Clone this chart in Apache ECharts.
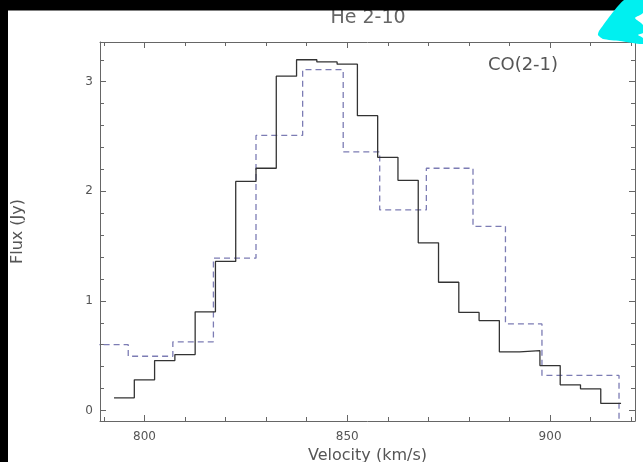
<!DOCTYPE html>
<html>
<head>
<meta charset="utf-8">
<script src="https://cdn.jsdelivr.net/npm/echarts@6/dist/echarts.min.js"></script>
<style>
html,body{margin:0;padding:0;background:#fff;}
#main{width:643px;height:462px;}
</style>
</head>
<body>
<div id="main"></div>
<script>
// velocity bin centres (km/s) and flux (Jy) of the solid histogram
var solidVel = [795,800,805,810,815,820,825,830,835,840,845,850,855,860,865,870,875,880,885,890,895,900,905,910,915];
var solidFlux = [0.115,0.28,0.455,0.51,0.90,1.36,2.09,2.21,3.05,3.20,3.18,3.16,2.69,2.31,2.10,1.53,1.17,0.895,0.82,0.535,0.546,0.41,0.234,0.198,0.064];
var solidWidth = 5;

// dashed histogram: bin edges and flux of each bin
var dashEdges = [785,796,807,817,827.5,839,849,858,869.5,881,889,898,917];
var dashFlux = [0.60,0.495,0.626,1.39,2.51,3.11,2.36,1.83,2.21,1.68,0.79,0.32];

var xMin = 789.04, xMax = 920.94;
var yMin = -0.096, yMax = 3.362;

var fontName = 'DejaVu Sans';
var axisColor = '#666';

function solidSteps(){
    var pts = [];
    for (var i = 0; i < solidVel.length; i++) {
        pts.push([solidVel[i] - solidWidth / 2, solidFlux[i]]);
    }
    var last = solidVel.length - 1;
    pts.push([solidVel[last] + solidWidth / 2, solidFlux[last]]);
    return pts;
}

function dashSteps(){
    var pts = [];
    for (var i = 0; i < dashFlux.length; i++) {
        pts.push([dashEdges[i], dashFlux[i]]);
    }
    // outline drops to the axis after the last bin
    pts.push([dashEdges[dashEdges.length - 1], yMin]);
    return pts;
}

function frameX(pos, showLabel){
    return {
        type: 'value',
        position: pos,
        min: xMin,
        max: xMax,
        splitNumber: 3,
        axisLine: {show: true, onZero: false, lineStyle: {color: axisColor, width: 1}},
        axisTick: {show: true, inside: true, length: 6, lineStyle: {color: axisColor}},
        minorTick: {show: true, splitNumber: 5, length: 4, lineStyle: {color: axisColor}},
        splitLine: {show: false},
        axisLabel: {
            show: showLabel, margin: 10, color: '#555',
            fontFamily: fontName, fontSize: 12,
            showMinLabel: false, showMaxLabel: false
        },
        name: showLabel ? 'Velocity (km/s)' : '',
        nameLocation: 'middle',
        nameGap: 27,
        nameTextStyle: {color: '#555', fontFamily: fontName, fontSize: 16}
    };
}

function frameY(pos, showLabel){
    return {
        type: 'value',
        position: pos,
        min: yMin,
        max: yMax,
        splitNumber: 4,
        axisLine: {show: true, onZero: false, lineStyle: {color: axisColor, width: 1}},
        axisTick: {show: true, inside: true, length: 6, lineStyle: {color: axisColor}},
        minorTick: {show: true, splitNumber: 5, length: 4, lineStyle: {color: axisColor}},
        splitLine: {show: false},
        axisLabel: {
            show: showLabel, margin: 7, color: '#555',
            fontFamily: fontName, fontSize: 12,
            showMinLabel: false, showMaxLabel: false
        },
        name: showLabel ? 'Flux (Jy)' : '',
        nameLocation: 'middle',
        nameGap: 74,
        nameTextStyle: {color: '#555', fontFamily: fontName, fontSize: 16}
    };
}

var myChart = echarts.init(document.getElementById('main'), null, {renderer: 'canvas'});
var option = {
    animation: false,
    backgroundColor: '#fff',
    title: [
        {
            text: 'He 2-10', left: 368, top: 9, textAlign: 'center', padding: 0,
            textStyle: {color: '#666', fontFamily: fontName, fontSize: 19, fontWeight: 'normal'}
        },
        {
            text: 'CO(2-1)', left: 523, top: 56, textAlign: 'center', padding: 0,
            textStyle: {color: '#555', fontFamily: fontName, fontSize: 18, fontWeight: 'normal'}
        }
    ],
    grid: {left: 100, top: 42, right: 8, bottom: 41, containLabel: false, outerBoundsMode: 'none'},
    xAxis: [frameX('bottom', true), frameX('top', false)],
    yAxis: [frameY('left', true), frameY('right', false)],
    series: [
        {
            type: 'line',
            step: 'end',
            xAxisIndex: 0,
            yAxisIndex: 0,
            showSymbol: false,
            clip: true,
            data: dashSteps(),
            lineStyle: {color: '#7c7cb4', width: 1.3, type: [6, 4]},
            z: 2
        },
        {
            type: 'line',
            step: 'end',
            xAxisIndex: 0,
            yAxisIndex: 0,
            showSymbol: false,
            clip: true,
            data: solidSteps(),
            lineStyle: {color: '#333', width: 1.3},
            z: 3
        }
    ],
    graphic: [
        {type: 'rect', shape: {x: 0, y: 0, width: 643, height: 10.5}, style: {fill: '#000'}, z: 100},
        {type: 'rect', shape: {x: 0, y: 0, width: 8, height: 462}, style: {fill: '#000'}, z: 100},
        {
            type: 'polygon', z: 101,
            shape: {
                smooth: 0.2,
                points: [[624,0],[643,0],[643,13],[635,18],[643,25],[643,33],[638,35],[643,38],[643,44],[620,41],[603,39],[598,35],[599,31]]
            },
            style: {fill: '#00f0f0'}
        }
    ]
};

myChart.setOption(option);
</script>
</body>
</html>
